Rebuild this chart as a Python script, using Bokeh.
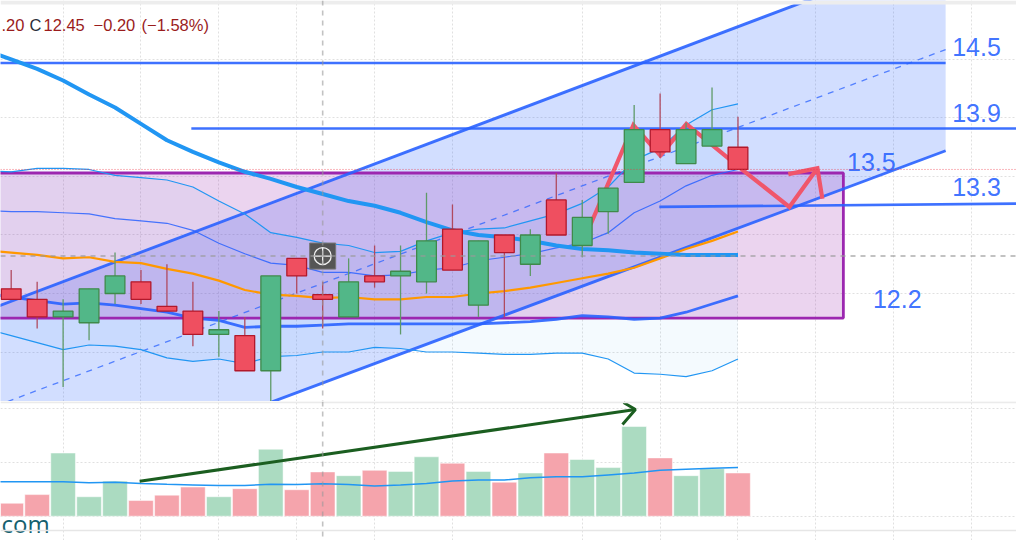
from bokeh.plotting import figure
from bokeh.layouts import column
from bokeh.models import ColumnDataSource, FixedTicker, Span, Label
from bokeh.core.properties import value
from bokeh.embed import file_html
from bokeh.resources import INLINE

# ---- data (bars, prices) -------------------------------------------------
bars = list(range(29))
opens = [12.54, 12.45, 12.30, 12.25, 12.50, 12.60, 12.39, 12.35, 12.15, 12.14, 11.84, 12.80, 12.49, 12.30, 12.65,
         12.65, 12.60, 13.05, 12.40, 13.00, 12.75, 13.30, 12.91, 13.20, 13.45, 13.90, 13.61, 13.76, 13.75]
highs = [12.70, 12.60, 12.45, 12.54, 12.85, 12.70, 12.75, 12.60, 12.35, 12.30, 12.65, 12.80, 12.60, 12.80, 12.91,
         12.91, 13.36, 13.26, 12.95, 13.00, 13.05, 13.53, 13.30, 13.40, 14.11, 14.21, 13.96, 14.26, 14.01]
lows = [12.45, 12.20, 11.70, 12.10, 12.41, 12.41, 12.35, 12.05, 11.96, 11.84, 11.54, 12.50, 12.20, 12.30, 12.55,
        12.15, 12.50, 12.70, 12.30, 12.30, 12.65, 13.00, 12.81, 13.01, 13.45, 13.66, 13.61, 13.76, 13.56]
closes = [12.45, 12.30, 12.35, 12.54, 12.65, 12.45, 12.35, 12.15, 12.19, 11.84, 12.65, 12.65, 12.45, 12.60, 12.60,
          12.69, 12.95, 12.70, 12.95, 12.85, 13.00, 13.00, 13.15, 13.40, 13.90, 13.71, 13.90, 13.90, 13.56]
volumes = [0.24, 0.40, 1.17, 0.36, 0.65, 0.29, 0.39, 0.54, 0.36, 0.51, 1.24, 0.49, 0.82, 0.75, 0.85,
           0.83, 1.10, 0.98, 0.83, 0.63, 0.80, 1.17, 1.05, 0.90, 1.66, 1.08, 0.75, 0.88, 0.80]

line_bars = list(range(-1, 29))
band_upper = [13.55, 13.54, 13.57, 13.57, 13.56, 13.51, 13.49, 13.47, 13.41, 13.29, 13.18, 13.02, 12.98, 12.93, 12.91,
              12.85, 12.86, 12.95, 13.02, 13.05, 13.06, 13.12, 13.18, 13.27, 13.41, 13.64, 13.74, 13.94, 14.07, 14.12]
band_lower = [12.20, 12.14, 12.08, 12.02, 12.06, 12.05, 12.02, 11.95, 11.92, 11.94, 11.90, 11.96, 11.97, 12.00, 12.00,
              12.04, 12.03, 12.00, 12.00, 11.99, 11.98, 11.98, 11.99, 11.99, 11.94, 11.82, 11.81, 11.79, 11.84, 11.94]
band_mid = [13.21, 13.20, 13.20, 13.19, 13.18, 13.14, 13.12, 13.10, 13.04, 12.93, 12.84, 12.76, 12.74, 12.68, 12.68,
            12.65, 12.66, 12.70, 12.72, 12.78, 12.81, 12.84, 12.89, 12.93, 13.02, 13.19, 13.29, 13.42, 13.51, 13.56]
ma_blue = [12.50, 12.47, 12.44, 12.41, 12.42, 12.40, 12.37, 12.34, 12.29, 12.27, 12.21, 12.22, 12.22, 12.23, 12.24,
           12.24, 12.24, 12.24, 12.24, 12.24, 12.25, 12.26, 12.28, 12.31, 12.30, 12.28, 12.29, 12.34, 12.41, 12.48]
ma_orange = [12.87, 12.85, 12.83, 12.80, 12.81, 12.77, 12.76, 12.71, 12.67, 12.61, 12.53, 12.49, 12.48, 12.46, 12.47,
             12.45, 12.45, 12.47, 12.47, 12.50, 12.52, 12.55, 12.59, 12.63, 12.67, 12.72, 12.80, 12.88, 12.95, 13.03]
ma_long = [14.58, 14.50, 14.42, 14.32, 14.20, 14.09, 13.95, 13.81, 13.71, 13.62, 13.54, 13.48, 13.41, 13.35, 13.29,
           13.25, 13.19, 13.11, 13.04, 13.00, 12.98, 12.95, 12.91, 12.88, 12.87, 12.85, 12.84, 12.83, 12.83, 12.83]
vol_ma = [0.64, 0.64, 0.64, 0.64, 0.62, 0.63, 0.605, 0.59, 0.58, 0.57, 0.57, 0.59, 0.585, 0.60, 0.585,
          0.56, 0.58, 0.605, 0.65, 0.67, 0.67, 0.71, 0.73, 0.73, 0.765, 0.80, 0.85, 0.87, 0.89, 0.90]

# drawings
channel_x = [-1, 36]
channel_up = [12.35, 15.45]
channel_mid = [11.505, 14.585]
channel_low = [10.66, 13.72]
box_x = [-1, 32.06]
box_y = [12.29, 13.53]
level_a_x, level_a_y = [-1, 36], [14.47, 14.47]
level_b_x, level_b_y = [6.94, 40], [13.91, 13.91]
level_c_x, level_c_y = [24.97, 40], [13.24, 13.27]
zig_x = [22.32, 23.97, 25.01, 26.01, 28.21, 29.98, 31.06]
zig_y = [13.09, 13.94, 13.68, 13.95, 13.55, 13.24, 13.57]
zig_head_x = [29.94, 31.06, 31.25]
zig_head_y = [13.52, 13.57, 13.31]
vol_arrow_x = [4.95, 24.05]
vol_arrow_y = [0.648, 1.976]
vol_head_x = [23.59, 24.05, 23.55]
vol_head_y = [2.105, 1.976, 1.70]
note_x = [36.25, 36.25, 32.2, 36.25, 33.2]
note_y = [14.61, 14.04, 13.62, 13.41, 12.45]
note_text = ["14.5", "13.9", "13.5", "13.3", "12.2"]
cross_bar, cross_price = 12, 12.82
last_price = 13.56
top_edge = 14.987
grid_bars = [2, 5, 8, 11, 14, 17, 22, 25, 28, 31, 34, 37]
grid_prices = [12.0, 12.5, 13.0, 13.5, 14.0, 14.5]
grid_vols = [0, 1, 2]

BLUE = "#2962ff"
SKY = "#2196f3"
PURPLE = "#9c27b0"
UP_FILL, UP_LINE, UP_WICK = "#52b788", "#3f8a4a", "#5f9a68"
DN_FILL, DN_LINE, DN_WICK = "#ef4f60", "#b2182b", "#b04a5f"
GRID = "#e0e0e0"

x_range = (-0.412, 38.73)
MAIN_H, VOL_H = 401, 139


def base(height, y_range, yticks):
    f = figure(width=1016, height=height, x_range=x_range, y_range=y_range,
               output_backend="svg", toolbar_location=None, min_border=0,
               background_fill_color="white", border_fill_color="white")
    f.outline_line_color = None
    f.axis.visible = False
    f.xgrid.ticker = FixedTicker(ticks=grid_bars)
    f.ygrid.ticker = FixedTicker(ticks=yticks)
    for g in (f.xgrid, f.ygrid):
        g.grid_line_color = GRID
        g.grid_line_dash = "2 2"
        g.grid_line_width = 1
    return f


# ---- price panel ---------------------------------------------------------
p = base(MAIN_H, (11.577, 15.004), grid_prices)

p.patch(channel_x + channel_x[::-1], channel_up + channel_low[::-1], color=BLUE, alpha=0.21, line_color=None)
p.patch(line_bars + line_bars[::-1], band_upper + band_lower[::-1], color=SKY, alpha=0.05, line_color=None)
p.quad(left=[box_x[0]], right=[box_x[1]], bottom=[box_y[0]], top=[box_y[1]],
       fill_color=PURPLE, fill_alpha=0.2, line_color=PURPLE, line_width=2.8)

p.line(channel_x, channel_mid, color=BLUE, alpha=0.75, line_width=1.3, line_dash="6 6")
p.line(channel_x, channel_up, color=BLUE, line_width=2.9, alpha=0.9)
p.line(channel_x, channel_low, color=BLUE, line_width=2.9, alpha=0.9)
for xs, ys in ((level_a_x, level_a_y), (level_b_x, level_b_y), (level_c_x, level_c_y)):
    p.line(xs, ys, color=BLUE, line_width=2.7, alpha=0.9)

p.line(line_bars, band_upper, color=SKY, line_width=1.2)
p.line(line_bars, band_lower, color=SKY, line_width=1.2)
p.line(line_bars, band_mid, color=BLUE, line_width=1.2, alpha=0.85)
p.line(line_bars, ma_blue, color=BLUE, line_width=2.8, alpha=0.9)
p.line(line_bars, ma_orange, color="#ff9800", line_width=2.2)
p.line(line_bars, ma_long, color=SKY, line_width=4)

p.line(zig_x, zig_y, color="#f0566b", line_width=4.2, line_join="miter")
p.line(zig_head_x, zig_head_y, color="#f0566b", line_width=4.2, line_join="miter")

up = [c >= o for o, c in zip(opens, closes)]
src = ColumnDataSource(dict(
    x=bars, top=[max(o, c) for o, c in zip(opens, closes)], bottom=[min(o, c) for o, c in zip(opens, closes)],
    high=highs, low=lows,
    fill=[UP_FILL if u else DN_FILL for u in up],
    edge=[UP_LINE if u else DN_LINE for u in up],
    wick=[UP_WICK if u else DN_WICK for u in up],
))
p.segment("x", "high", "x", "low", source=src, line_color="wick", line_width=1.3)
p.vbar("x", 0.76, "bottom", "top", source=src, fill_color="fill", line_color="edge", line_width=1.3)

p.text(note_x, note_y, text=note_text, text_color=BLUE, text_font=value("Liberation Sans"),
       text_font_size="25px", text_baseline="middle", text_align="left", text_alpha=0.9)

p.add_layout(Span(location=top_edge, dimension="width", line_color="#ededed", line_width=4))
p.add_layout(Span(location=last_price, dimension="width", line_color="#f23645", line_width=1,
                  line_dash="1 2", line_alpha=0.7))
p.add_layout(Span(location=cross_price, dimension="width", line_color="#9a9a9a", line_width=1.6,
                  line_dash="5 5", line_alpha=0.8))
p.add_layout(Span(location=cross_bar, dimension="height", line_color="#9a9a9a", line_width=1.6,
                  line_dash="5 5", line_alpha=0.6))

p.scatter([cross_bar], [cross_price], marker="square", size=26, fill_color="#555555", line_color="#777777")
p.scatter([cross_bar], [cross_price], marker="circle_cross", size=17, fill_color=None, line_color="#f0f0f0", line_width=1.3)

for txt, px, col in ((".20", 1, "#9a1c1c"), ("C", 29, "#2a2e39"), ("12.45", 43, "#9a1c1c"),
                     ("\u22120.20", 93, "#9a1c1c"), ("(\u22121.58%)", 141, "#9a1c1c")):
    p.add_layout(Label(x=px, y=MAIN_H - 24, x_units="screen", y_units="screen", text=txt, text_color=col,
                       text_font="Liberation Sans", text_font_size="16.5px", text_baseline="middle"))

# ---- volume panel --------------------------------------------------------
v = base(VOL_H, (-0.45, 2.124), grid_vols)
v.vbar(bars, 0.95, [0] * len(bars), volumes,
       fill_color=["#abdbc1" if u else "#f5a4ac" for u in up], line_color="white", line_alpha=0.5, line_width=1)
v.add_layout(Label(x=1, y=VOL_H - (523 - 401), x_units="screen", y_units="screen", text="com", text_color="#155f6e",
                   text_font="Open Sans", text_font_size="24px", text_baseline="alphabetic"))
v.line(line_bars, vol_ma, color=SKY, line_width=1.5)
v.line(vol_arrow_x, vol_arrow_y, color="#1b5e20", line_width=3)
v.line(vol_head_x, vol_head_y, color="#1b5e20", line_width=3)
v.add_layout(Span(location=2.11, dimension="width", line_color="#ebebeb", line_width=2))
v.add_layout(Span(location=-0.265, dimension="width", line_color="#e6e6e6", line_width=1.5))
v.add_layout(Span(location=cross_bar, dimension="height", line_color="#9a9a9a", line_width=1.6,
                  line_dash="5 5", line_alpha=0.6))

page = column(p, v, spacing=0)
open("out.html", "w").write(file_html(page, INLINE))
